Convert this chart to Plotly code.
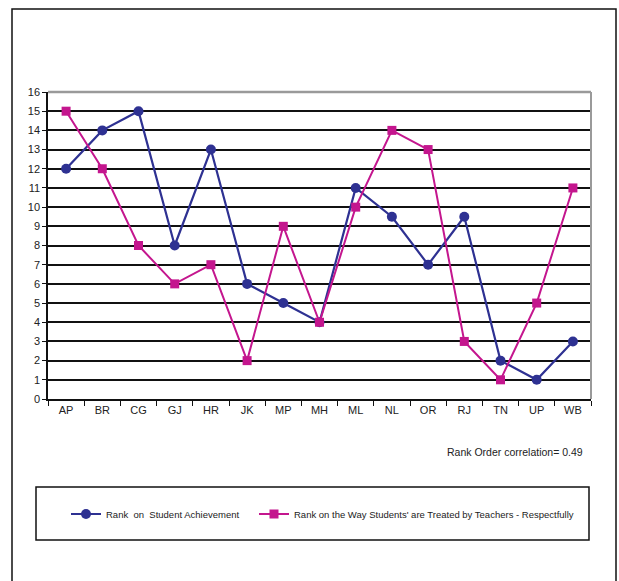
import plotly.graph_objects as go

states = ["AP", "BR", "CG", "GJ", "HR", "JK", "MP", "MH", "ML", "NL", "OR", "RJ", "TN", "UP", "WB"]
rank_achievement = [12, 14, 15, 8, 13, 6, 5, 4, 11, 9.5, 7, 9.5, 2, 1, 3]
rank_respect = [15, 12, 8, 6, 7, 2, 9, 4, 10, 14, 13, 3, 1, 5, 11]
y_ticks = list(range(0, 17))

BLUE = "#2E3192"
PINK = "#C4168E"
FONT = "Liberation Sans, Arial, sans-serif"

W, H = 619, 581
L, R, T, B = 48, 591, 92, 399  # plot area in pixels


def px_x(px):
    return (px - L) / (R - L)


def px_y(py):
    return (B - py) / (B - T)


fig = go.Figure()
fig.add_trace(go.Scatter(
    x=states, y=rank_achievement, mode="lines+markers",
    name="Rank  on  Student Achievement", legend="legend",
    line=dict(color=BLUE, width=2.2),
    marker=dict(symbol="circle", size=10, color=BLUE),
))
fig.add_trace(go.Scatter(
    x=states, y=rank_respect, mode="lines+markers",
    name="Rank on the Way Students' are Treated by Teachers - Respectfully", legend="legend2",
    line=dict(color=PINK, width=2),
    marker=dict(symbol="square", size=9, color=PINK),
))

shapes = [
    # outer frame
    dict(type="rect", xref="paper", yref="paper",
         x0=px_x(12), x1=px_x(616), y0=px_y(600), y1=px_y(9),
         line=dict(color="#111", width=1.5), layer="below"),
    # legend box
    dict(type="rect", xref="paper", yref="paper",
         x0=px_x(36), x1=px_x(589), y0=px_y(540), y1=px_y(487),
         line=dict(color="#111", width=1.5), layer="below"),
    # gray top and right edges of the plot area
    dict(type="line", xref="paper", yref="paper", x0=0, x1=1, y0=1, y1=1,
         line=dict(color="#9a9a9a", width=2.5)),
    dict(type="line", xref="paper", yref="paper", x0=1, x1=1, y0=0, y1=1,
         line=dict(color="#9a9a9a", width=2)),
]

legend_common = dict(orientation="h", yanchor="middle", xanchor="left",
                     bgcolor="rgba(0,0,0,0)", font=dict(size=9.5), itemwidth=30)

fig.update_layout(
    width=W, height=H,
    margin=dict(l=L, r=W - R, t=T, b=H - B),
    paper_bgcolor="white", plot_bgcolor="white",
    font=dict(family=FONT, size=11, color="#222"),
    showlegend=True,
    legend=dict(x=px_x(66), y=px_y(514), **legend_common),
    legend2=dict(x=px_x(254), y=px_y(514), **legend_common),
    shapes=shapes,
    annotations=[dict(text="Rank Order correlation= 0.49", xref="paper", yref="paper",
                      x=px_x(585), y=px_y(452), xanchor="right", yanchor="middle",
                      showarrow=False, font=dict(size=10.5))],
    xaxis=dict(type="category", range=[-0.5, 14.5], showgrid=False,
               showline=True, linecolor="#111", linewidth=1.5,
               ticks="outside", ticklen=5, tickcolor="#111", tickson="boundaries",
               tickfont=dict(size=11), fixedrange=True),
    yaxis=dict(range=[0, 16], tickvals=y_ticks, showgrid=True, gridcolor="#111", gridwidth=1.5,
               zeroline=False, showline=True, linecolor="#111", linewidth=1.5,
               ticks="outside", ticklen=4, tickcolor="#111",
               tickfont=dict(size=11), fixedrange=True),
)

fig.write_html("out.html")
